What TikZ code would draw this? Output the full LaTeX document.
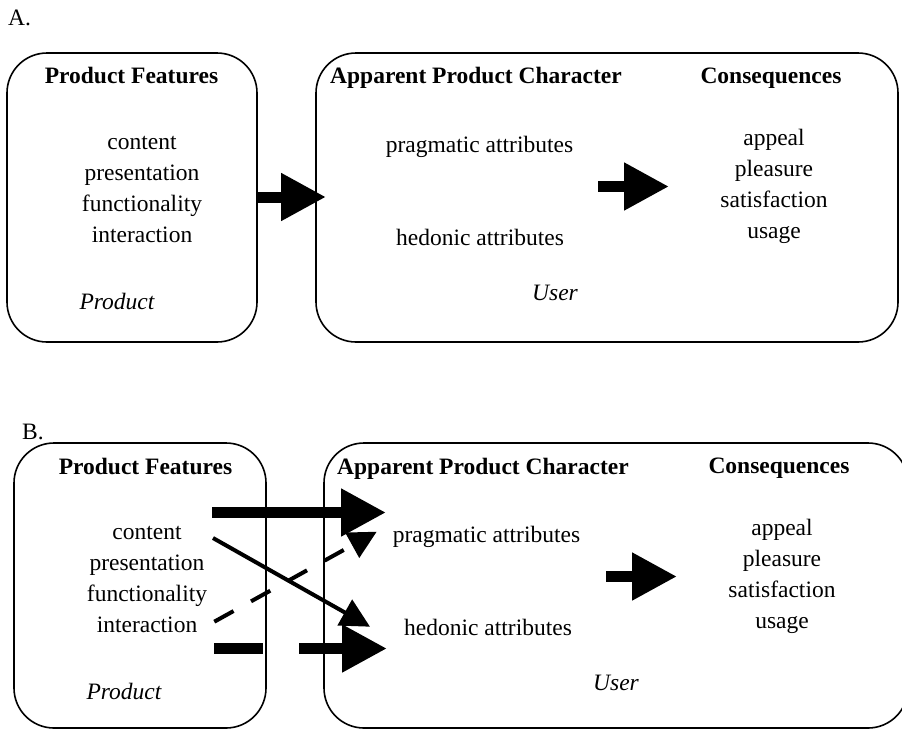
\documentclass[tikz,border=0pt]{standalone}
\usepackage{fontspec}
\setmainfont{Liberation Serif}
\usetikzlibrary{arrows.meta}
\begin{document}
\begin{tikzpicture}[x=1pt,y=-1pt,
  box/.style={draw, line width=1.6pt, rounded corners=40pt, inner sep=0pt, outer sep=0pt},
  txt/.style={anchor=base, inner sep=0pt, font=\fontsize{23.5}{28}\selectfont},
  hdr/.style={anchor=base, inner sep=0pt, font=\fontsize{23.5}{28}\selectfont\bfseries},
  itx/.style={anchor=base, inner sep=0pt, font=\fontsize{23.5}{28}\selectfont\itshape},
  bigarrow/.style={line width=11pt, -{Triangle[length=45pt,width=45pt]}},
  thinarrow/.style={line width=4pt, -{Triangle[length=29pt,width=29pt]}},
  dashedthin/.style={line width=4pt, dash pattern=on 22pt off 20pt, -{Triangle[length=28pt,width=28pt]}}]
\useasboundingbox (0,0) rectangle (902,729);
% ---------------- Part A ----------------
\node[txt, anchor=base west] (labA) at (8,25) {A.};
\node[box, minimum width=250pt, minimum height=289pt] (boxAL) at (132,197.5) {};
\node[box, minimum width=582pt, minimum height=289pt] (boxAR) at (607,197.5) {};
\node[hdr] (pfA) at (131.5,83) {Product Features};
\node[hdr, anchor=base west] (apcA) at (330,83) {Apparent Product Character};
\node[hdr] (conA) at (771,83) {Consequences};
\node[txt] (contA) at (142,149) {content};
\node[txt] (presA) at (142,180) {presentation};
\node[txt] (funcA) at (142,211) {functionality};
\node[txt] (inteA) at (142,242) {interaction};
\node[txt] (pragA) at (479.5,152) {pragmatic attributes};
\node[txt] (hedA) at (480,245) {hedonic attributes};
\node[txt] (appA) at (774,145) {appeal};
\node[txt] (pleA) at (774,176) {pleasure};
\node[txt] (satA) at (774,207) {satisfaction};
\node[txt] (useA) at (774,238) {usage};
\node[itx] (prodA) at (117,309) {Product};
\node[itx] (userA) at (555,300) {User};
\coordinate (a1s) at (256,197);
\coordinate (a1e) at (326,197);
\draw[bigarrow] (a1s) -- (a1e);
\coordinate (a2s) at (598,186.5);
\coordinate (a2e) at (669,186.5);
\draw[bigarrow] (a2s) -- (a2e);
% ---------------- Part B ----------------
\node[txt, anchor=base west] (labB) at (22,439) {B.};
\node[box, minimum width=252pt, minimum height=285pt] (boxBL) at (140,585.5) {};
\node[box, minimum width=584pt, minimum height=285pt] (boxBR) at (616,585.5) {};
\node[hdr] (pfB) at (145.5,474) {Product Features};
\node[hdr, anchor=base west] (apcB) at (337,474) {Apparent Product Character};
\node[hdr] (conB) at (779,473) {Consequences};
\node[txt] (contB) at (147,539) {content};
\node[txt] (presB) at (147,570) {presentation};
\node[txt] (funcB) at (147,601) {functionality};
\node[txt] (inteB) at (147,632) {interaction};
\node[txt] (pragB) at (486.5,542) {pragmatic attributes};
\node[txt] (hedB) at (488,635) {hedonic attributes};
\node[txt] (appB) at (782,535) {appeal};
\node[txt] (pleB) at (782,566) {pleasure};
\node[txt] (satB) at (782,597) {satisfaction};
\node[txt] (useB) at (782,628) {usage};
\node[itx] (prodB) at (124,699) {Product};
\node[itx] (userB) at (616,690) {User};
\coordinate (b1s) at (212,512.5);
\coordinate (b1e) at (386,512.5);
\draw[bigarrow] (b1s) -- (b1e);
\coordinate (b2s) at (213,538);
\coordinate (b2e) at (370,626.7);
\draw[thinarrow] (b2s) -- (b2e);
\coordinate (b3s) at (214.3,621.7);
\coordinate (b3e) at (376.7,531.7);
\draw[dashedthin] (b3s) -- (b3e);
\coordinate (b4s) at (214,648.5);
\coordinate (b4e) at (387,648.5);
\draw[bigarrow, dash pattern=on 49pt off 36pt on 80pt] (b4s) -- (b4e);
\coordinate (b5s) at (606,576.5);
\coordinate (b5e) at (677,576.5);
\draw[bigarrow] (b5s) -- (b5e);
\end{tikzpicture}
\end{document}
